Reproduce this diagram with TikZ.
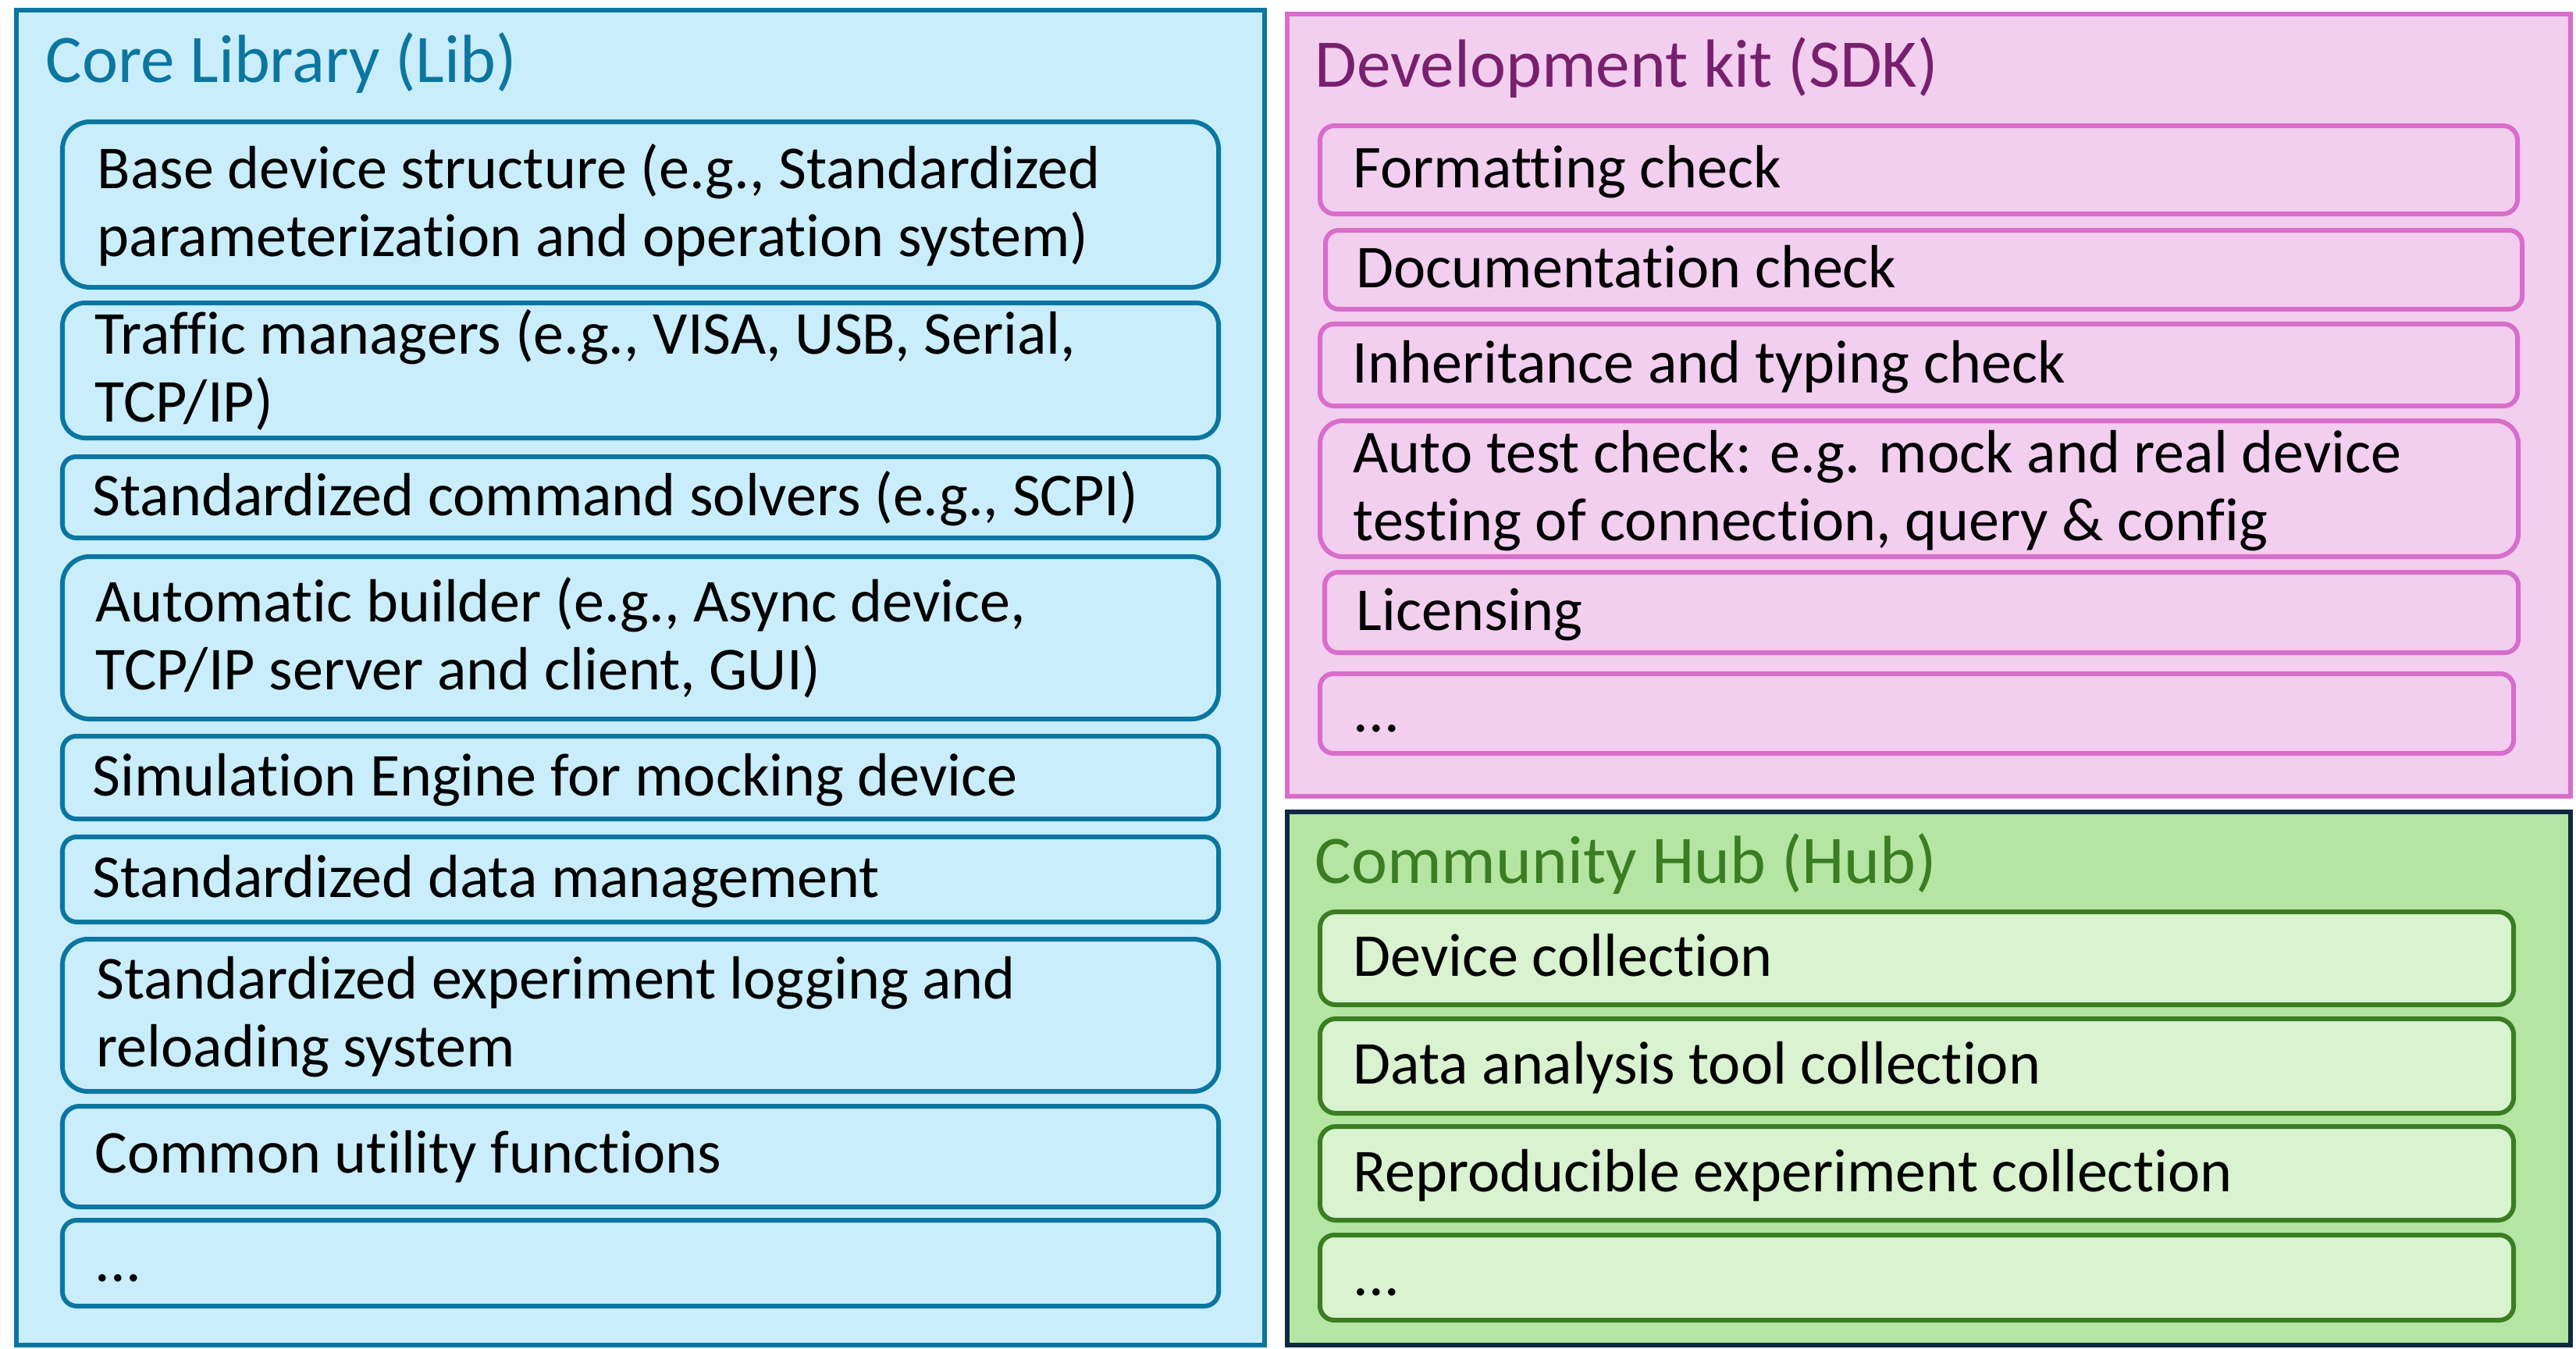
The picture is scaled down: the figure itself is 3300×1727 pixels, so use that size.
\documentclass[tikz,border=0pt]{standalone}
\usepackage{fontspec}
\setmainfont{Carlito}[Ligatures={NoCommon}]
\definecolor{libfill}{HTML}{CAEDFB}
\definecolor{libline}{HTML}{0B76A0}
\definecolor{sdkfill}{HTML}{F2CEEF}
\definecolor{sdkline}{HTML}{D86DCB}
\definecolor{sdktitle}{HTML}{78206E}
\definecolor{hubfill}{HTML}{B4E5A2}
\definecolor{hubline}{HTML}{0E2841}
\definecolor{hubinfill}{HTML}{D9F2D0}
\definecolor{hubinline}{HTML}{3A7D22}
\tikzset{
  outerbox/.style={line width=0.06cm, inner sep=0pt, outer sep=0pt},
  libouter/.style={outerbox, draw=libline, fill=libfill},
  sdkouter/.style={outerbox, draw=sdkline, fill=sdkfill},
  hubouter/.style={outerbox, draw=hubline, fill=hubfill},
  libitem/.style={outerbox, draw=libline, fill=libfill},
  sdkitem/.style={outerbox, draw=sdkline, fill=sdkfill},
  hubitem/.style={outerbox, draw=hubinline, fill=hubinfill},
  itemtext/.style={anchor=base west, inner sep=0pt, text=black,
    font=\fontsize{22.2}{24.75}\selectfont},
  titletext/.style={anchor=base west, inner sep=0pt,
    font=\fontsize{24.8}{28}\selectfont},
}
\newcommand{\mkbox}[6]{%
  \pgfmathsetmacro{\bw}{(#5-#3)*0.01}%
  \pgfmathsetmacro{\bh}{(#6-#4)*0.01}%
  \pgfmathsetmacro{\br}{min(\bw,\bh)*0.1667}%
  \node[#2, minimum width=\bw cm, minimum height=\bh cm, rounded corners=\br cm, anchor=north west] (#1) at (#3,#4) {};%
}
\newcommand{\mkouter}[6]{%
  \pgfmathsetmacro{\bw}{(#5-#3)*0.01}%
  \pgfmathsetmacro{\bh}{(#6-#4)*0.01}%
  \node[#2, minimum width=\bw cm, minimum height=\bh cm, anchor=north west] (#1) at (#3,#4) {};%
}
\newcommand{\twolines}[2]{\parbox[t]{16cm}{\raggedright #1\\#2}}
\begin{document}
\begin{tikzpicture}[x=0.01cm, y=-0.01cm]
\useasboundingbox (0,0) rectangle (3300,1727);
% outer panels
\mkouter{lib}{libouter}{21}{13}{1620}{1723}
\mkouter{sdk}{sdkouter}{1649}{18}{3293}{1020}
\mkouter{hub}{hubouter}{1649}{1040}{3293}{1723}
% titles
\node[titletext, text=libline] (libtitle) at (58,105) {Core Library (Lib)};
\node[titletext, text=sdktitle] (sdktitle) at (1684,111) {Development kit (SDK)};
\node[titletext, text=hubinline] (hubtitle) at (1684,1131) {Community Hub (Hub)};
% library items
\mkbox{l1}{libitem}{80}{156}{1561}{368}
\mkbox{l2}{libitem}{80}{388}{1561}{561}
\mkbox{l3}{libitem}{80}{585}{1561}{689}
\mkbox{l4}{libitem}{80}{713}{1561}{921}
\mkbox{l5}{libitem}{80}{943}{1561}{1049}
\mkbox{l6}{libitem}{80}{1072}{1561}{1181}
\mkbox{l7}{libitem}{80}{1203}{1561}{1398}
\mkbox{l8}{libitem}{80}{1417}{1561}{1546}
\mkbox{l9}{libitem}{80}{1563}{1561}{1673}
\node[itemtext] (t1) at (124,241) {\twolines{Base device structure (e.g., Standardized}{parameterization and operation system)}};
\node[itemtext] (t2) at (121,453.5) {\twolines{Traffic managers (e.g., VISA, USB, Serial,}{TCP/IP)}};
\node[itemtext] (t3) at (118,660) {Standardized command solvers (e.g., SCPI)};
\node[itemtext] (t4) at (122,796) {\twolines{Automatic builder (e.g., Async device,}{TCP/IP server and client, GUI)}};
\node[itemtext] (t5) at (118,1019) {Simulation Engine for mocking device};
\node[itemtext] (t6) at (118,1149) {Standardized data management};
\node[itemtext] (t7) at (123,1279.5) {\twolines{Standardized experiment logging and}{reloading system}};
\node[itemtext] (t8) at (121,1502) {Common utility functions};
\node[itemtext] (t9) at (121,1641) {...};
% sdk items
\mkbox{s1}{sdkitem}{1691}{161}{3225}{274}
\mkbox{s2}{sdkitem}{1698}{295}{3231}{396}
\mkbox{s3}{sdkitem}{1691}{415}{3225}{520}
\mkbox{s4}{sdkitem}{1691}{539}{3226}{713}
\mkbox{s5}{sdkitem}{1697}{733}{3226}{836}
\mkbox{s6}{sdkitem}{1691}{863}{3220}{965}
\node[itemtext] (u1) at (1733,240.5) {Formatting check};
\node[itemtext] (u2) at (1737,368.5) {Documentation check};
\node[itemtext] (u3) at (1732,490.5) {Inheritance and typing check};
\node[itemtext] (u4) at (1733,605) {\twolines{Auto test check: e.g. mock and real device}{testing of connection, query \& config}};
\node[itemtext] (u5) at (1737,807.5) {Licensing};
\node[itemtext] (u6) at (1733,937) {...};
% hub items
\mkbox{h1}{hubitem}{1691}{1168}{3220}{1287}
\mkbox{h2}{hubitem}{1691}{1305}{3220}{1426}
\mkbox{h3}{hubitem}{1691}{1443}{3220}{1563}
\mkbox{h4}{hubitem}{1691}{1582}{3220}{1691}
\node[itemtext] (v1) at (1733,1250.5) {Device collection};
\node[itemtext] (v2) at (1733,1388.5) {Data analysis tool collection};
\node[itemtext] (v3) at (1733,1526) {Reproducible experiment collection};
\node[itemtext] (v4) at (1733,1659.5) {...};
\end{tikzpicture}
\end{document}
